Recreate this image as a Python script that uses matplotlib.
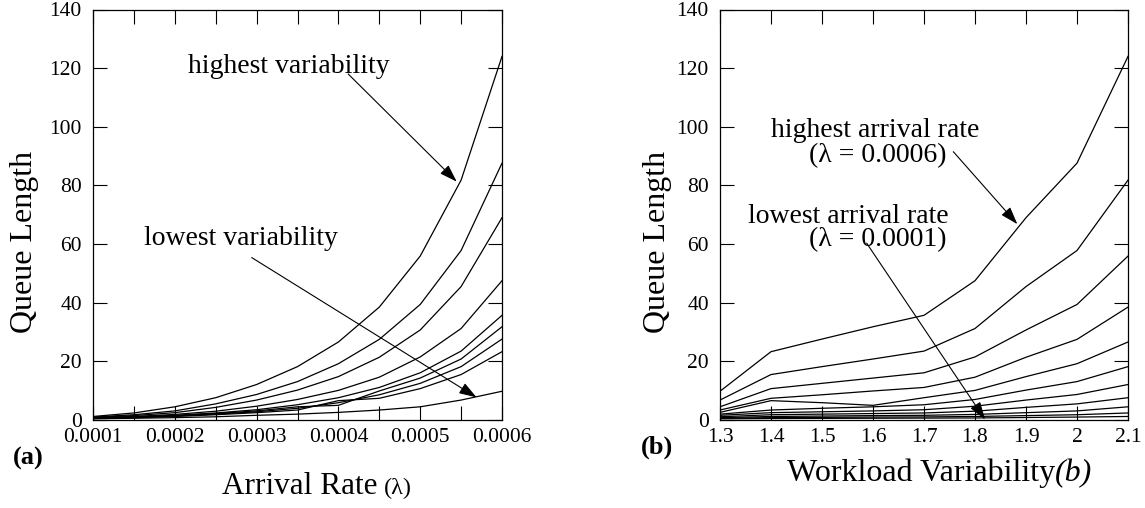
import matplotlib
matplotlib.use("Agg")
import matplotlib.pyplot as plt
from matplotlib.ticker import MultipleLocator, FixedLocator, FixedFormatter

plt.rcParams["font.family"] = ["Liberation Serif", "DejaVu Serif"]

# arrival rates (lambda) and workload variability levels (b)
arrival_rates = [0.0001, 0.00015, 0.0002, 0.00025, 0.0003, 0.00035,
                 0.0004, 0.00045, 0.0005, 0.00055, 0.0006]
variability = [1.3, 1.4, 1.5, 1.6, 1.7, 1.8, 1.9, 2.0, 2.1]

# queue length for each variability level, one value per arrival rate
q_b13 = [0.4, 0.6, 0.8, 1.1, 1.6, 2.0, 2.6, 3.4, 4.5, 6.8, 9.8]
q_b14 = [0.5, 0.8, 1.2, 1.8, 2.5, 3.4, 6.6, 7.4, 10.7, 15.5, 23.3]
q_b15 = [0.55, 0.9, 1.35, 2.0, 2.8, 4.0, 5.9, 8.6, 12.5, 18.2, 27.6]
q_b16 = [0.6, 1.0, 1.5, 2.2, 3.1, 4.5, 5.0, 9.9, 14.3, 20.8, 31.8]
q_b17 = [0.65, 1.05, 1.6, 2.4, 3.5, 5.2, 7.6, 11.1, 16.1, 23.5, 35.7]
q_b18 = [0.7, 1.2, 1.9, 3.0, 4.7, 7.0, 10.1, 14.6, 21.5, 31.2, 47.5]
q_b19 = [0.85, 1.5, 2.5, 4.3, 6.8, 10.2, 14.8, 21.4, 30.7, 45.5, 69.0]
q_b20 = [1.0, 1.8, 3.1, 5.5, 8.7, 13.1, 19.2, 27.5, 39.4, 57.8, 87.6]
q_b21 = [1.2, 2.4, 4.5, 7.6, 12.1, 18.2, 26.6, 38.5, 55.9, 81.8, 124.0]

queue = [q_b13, q_b14, q_b15, q_b16, q_b17, q_b18, q_b19, q_b20, q_b21]

b_tick_labels = ["1.3", "1.4", "1.5", "1.6", "1.7", "1.8", "1.9", "2", "2.1"]
rate_tick_labels = ["0.0001", "0.0002", "0.0003", "0.0004", "0.0005", "0.0006"]

W, H = 1145, 508
fig = plt.figure(figsize=(W / 100, H / 100), dpi=100)

ax1 = fig.add_axes([93 / W, 1 - 420 / H, 409 / W, 410.5 / H])
ax2 = fig.add_axes([720 / W, 1 - 420 / H, 408 / W, 410.5 / H])

line_kw = dict(color="black", lw=0.9)
arrow_kw = dict(arrowstyle="-|>,head_length=0.6,head_width=0.2",
                mutation_scale=18, color="black", lw=0.8, shrinkA=0, shrinkB=0)

# (a) queue length vs arrival rate, one line per variability level
for row in queue:
    ax1.plot(arrival_rates, row, **line_kw)

ax1.set_xlim(0.0001, 0.0006)
ax1.xaxis.set_minor_locator(MultipleLocator(0.00005))
ax1.xaxis.set_major_locator(FixedLocator(arrival_rates[::2]))
ax1.xaxis.set_major_formatter(FixedFormatter(rate_tick_labels))

ax1.text(0.000339, 120.5, "highest variability", fontsize=20,
         ha="center", va="center")
ax1.annotate("", xy=(0.0005446, 81.3), xytext=(0.000412, 118),
             arrowprops=arrow_kw)
ax1.text(0.000281, 62, "lowest variability", fontsize=20,
         ha="center", va="center")
ax1.annotate("", xy=(0.000569, 7.7), xytext=(0.000294, 55.4),
             arrowprops=arrow_kw)

# (b) queue length vs variability, one line per arrival rate
for j in range(len(arrival_rates)):
    ax2.plot(variability, [row[j] for row in queue], **line_kw)

ax2.set_xlim(1.3, 2.1)
ax2.xaxis.set_major_locator(FixedLocator(variability))
ax2.xaxis.set_major_formatter(FixedFormatter(b_tick_labels))

ax2.text(1.605, 98.6, "highest arrival rate", fontsize=20,
         ha="center", va="center")
ax2.text(1.61, 90.2, "(\u03bb = 0.0006)", fontsize=20,
         ha="center", va="center")
ax2.annotate("", xy=(1.883, 66.8), xytext=(1.7575, 91.5),
             arrowprops=arrow_kw)
ax2.text(1.552, 69.4, "lowest arrival rate", fontsize=20,
         ha="center", va="center")
ax2.text(1.61, 61.6, "(\u03bb = 0.0001)", fontsize=20,
         ha="center", va="center")
ax2.annotate("", xy=(1.8196, 0.2), xytext=(1.5876, 60.3),
             arrowprops=arrow_kw)

for ax in (ax1, ax2):
    ax.set_ylim(0, 140)
    ax.yaxis.set_major_locator(MultipleLocator(20))
    ax.tick_params(which="both", direction="in", top=True, right=True,
                   length=10, width=0.8, labelsize=15.5)
    ax.tick_params(axis="y", pad=8)
    ax.tick_params(axis="x", pad=6)
    for sp in ax.spines.values():
        sp.set_linewidth(0.9)

# axis titles and panel tags
fig.text(25 / W, 1 - 242 / H, "Queue Length", rotation=90, fontsize=23,
         ha="center", va="center")
fig.text(657 / W, 1 - 242 / H, "Queue Length", rotation=90, fontsize=23,
         ha="center", va="center")
fig.text(377 / W, 1 - 494 / H, "Arrival Rate", fontsize=22.5,
         ha="right", va="baseline")
fig.text(384 / W, 1 - 494 / H, "(\u03bb)", fontsize=17.5,
         ha="left", va="baseline")
fig.text(1055 / W, 1 - 481 / H, "Workload Variability", fontsize=23,
         ha="right", va="baseline")
fig.text(1055 / W, 1 - 481 / H, "(b)", fontsize=23, style="italic",
         ha="left", va="baseline")
fig.text(13 / W, 1 - 458 / H, "(a)", fontsize=19, weight="bold",
         ha="left", va="center")
fig.text(641 / W, 1 - 447 / H, "(b)", fontsize=19, weight="bold",
         ha="left", va="center")

fig.savefig("out.png", dpi=100)
